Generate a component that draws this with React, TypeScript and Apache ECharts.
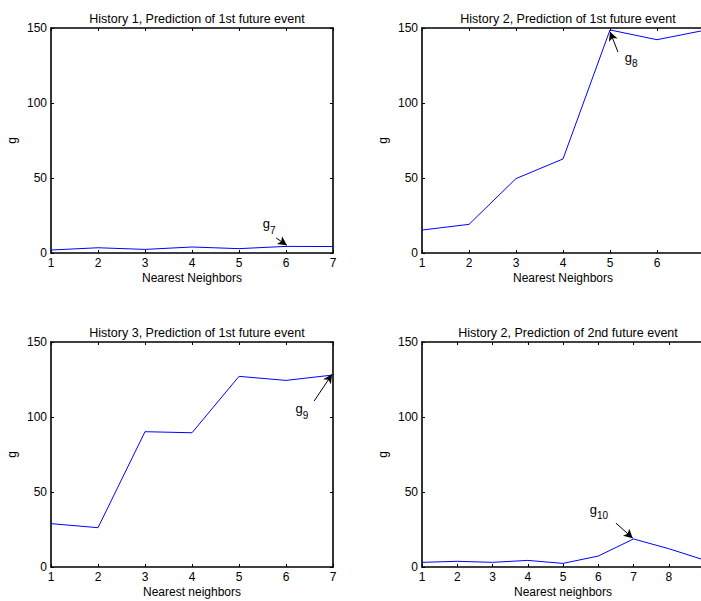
import React, { useEffect, useRef } from "react";
import * as echarts from "echarts";

const titles = [
  "History 1, Prediction of 1st future event",
  "History 2, Prediction of 1st future event",
  "History 3, Prediction of 1st future event",
  "History 2, Prediction of 2nd future event",
];
const xNames = ["Nearest Neighbors", "Nearest Neighbors", "Nearest neighbors", "Nearest neighbors"];
const yName = "g";
const xMax = [7, 7, 7, 9];

const xs = [1, 2, 3, 4, 5, 6, 7, 8, 9];
const h1First = [2.0, 3.5, 2.4, 4.0, 2.9, 4.4, 4.3];
const h2First = [15.3, 19.1, 49.6, 62.7, 148.7, 142.2, 148.4];
const h3First = [28.9, 26.2, 90.2, 89.5, 127.1, 124.4, 128.0];
const h2Second = [3.1, 3.8, 3.1, 4.4, 2.4, 7.3, 18.7, 12.2, 4.7];
const seriesValues = [h1First, h2First, h3First, h2Second];

const annotSub = ["7", "8", "9", "10"];
const arrowFrom = [[5.79, 10], [5.17, 134], [6.6, 110.7], [6.5, 29.3]];
const arrowTo = [[6.02, 5.2], [5.0, 147.5], [6.98, 128.5], [6.98, 19.2]];
const labelAt = [[5.64, 18], [5.45, 128.7], [6.34, 104], [6.02, 36.7]];

const FONT = "'Liberation Sans', Arial, Helvetica, sans-serif";

export default function App() {
  const ref = useRef<HTMLDivElement>(null);
  useEffect(() => {
    if (!ref.current) return;
    const chart = echarts.init(ref.current, null, { renderer: "svg" });
    const lefts = [51, 422, 51, 422];
    const tops = [28, 28, 342, 342];
    const W = 282;
    const H = 225;
    const grids: any[] = [];
    const xAxes: any[] = [];
    const yAxes: any[] = [];
    const series: any[] = [];
    const titleArr: any[] = [];
    for (let i = 0; i < 4; i++) {
      grids.push({ left: lefts[i], top: tops[i], width: W, height: H, containLabel: false });
      titleArr.push({
        text: titles[i],
        left: lefts[i] + W / 2,
        top: tops[i] - 21,
        textAlign: "center",
        textStyle: { fontFamily: FONT, fontSize: 12.5, fontWeight: "normal", color: "#000" },
      });
      const axisLine = { show: true, onZero: false, lineStyle: { color: "#000", width: 1.6 } };
      const tick = { show: true, inside: true, length: 3, lineStyle: { color: "#000", width: 1 } };
      xAxes.push({
        type: "value",
        gridIndex: i,
        position: "bottom",
        min: 1,
        max: xMax[i],
        interval: 1,
        name: xNames[i],
        nameLocation: "middle",
        nameGap: 19,
        nameTextStyle: { fontFamily: FONT, fontSize: 12, color: "#000" },
        axisLine,
        axisTick: tick,
        axisLabel: { fontFamily: FONT, fontSize: 12, color: "#000", margin: 4 },
        splitLine: { show: false },
      });
      xAxes.push({
        type: "value",
        gridIndex: i,
        position: "top",
        min: 1,
        max: xMax[i],
        interval: 1,
        axisLine,
        axisTick: tick,
        axisLabel: { show: false },
        splitLine: { show: false },
      });
      yAxes.push({
        type: "value",
        gridIndex: i,
        position: "left",
        min: 0,
        max: 150,
        interval: 50,
        name: yName,
        nameLocation: "middle",
        nameGap: 33,
        nameTextStyle: { fontFamily: FONT, fontSize: 12, color: "#000" },
        axisLine,
        axisTick: tick,
        axisLabel: { fontFamily: FONT, fontSize: 12, color: "#000", margin: 4 },
        splitLine: { show: false },
      });
      yAxes.push({
        type: "value",
        gridIndex: i,
        position: "right",
        min: 0,
        max: 150,
        interval: 50,
        axisLine,
        axisTick: tick,
        axisLabel: { show: false },
        splitLine: { show: false },
      });
      const vals = seriesValues[i];
      series.push({
        type: "line",
        xAxisIndex: i * 2,
        yAxisIndex: i * 2,
        data: vals.map((v, k) => [xs[k], v]),
        showSymbol: false,
        symbol: "none",
        clip: true,
        lineStyle: { color: "#0000ff", width: 1 },
        itemStyle: { color: "#0000ff" },
        markLine: {
          silent: true,
          symbol: ["none", "arrow"],
          symbolSize: [7, 9],
          lineStyle: { color: "#000", width: 1, type: "solid" },
          label: { show: false },
          emphasis: { disabled: true },
          data: [[{ coord: arrowFrom[i] }, { coord: arrowTo[i] }]],
        },
        markPoint: {
          silent: true,
          symbol: "circle",
          symbolSize: 0,
          itemStyle: { color: "transparent" },
          label: {
            show: true,
            position: "inside",
            formatter: "{g|g}{s|" + annotSub[i] + "}",
            rich: {
              g: { fontFamily: FONT, fontSize: 13, color: "#000", lineHeight: 18, verticalAlign: "top" },
              s: { fontFamily: FONT, fontSize: 10, color: "#000", lineHeight: 10, verticalAlign: "bottom" },
            },
          },
          data: [{ coord: labelAt[i] }],
        },
      });
    }
    chart.setOption({
      animation: false,
      backgroundColor: "#fff",
      title: titleArr,
      grid: grids,
      xAxis: xAxes,
      yAxis: yAxes,
      series,
    });
    return () => chart.dispose();
  }, []);
  return (
    <div
      style={{
        position: "absolute",
        left: 0,
        top: 0,
        width: 701,
        height: 601,
        overflow: "hidden",
        background: "#fff",
      }}
    >
      <div ref={ref} style={{ width: 720, height: 601 }} />
    </div>
  );
}
